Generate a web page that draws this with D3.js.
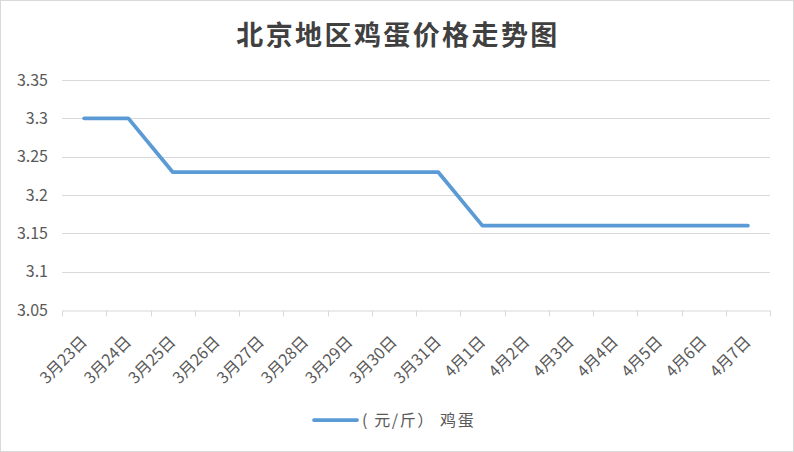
<!DOCTYPE html>
<html><head><meta charset="utf-8">
<script src="https://cdn.jsdelivr.net/npm/d3@7/dist/d3.min.js"></script>
<style>
html,body{margin:0;padding:0;background:#fff;}
svg{display:block;}
</style></head>
<body>
<svg id="chart" width="794" height="452"></svg>
<script>
const categories = ["3月23日","3月24日","3月25日","3月26日","3月27日","3月28日","3月29日","3月30日","3月31日","4月1日","4月2日","4月3日","4月4日","4月5日","4月6日","4月7日"];
const eggPrices = [3.30,3.30,3.23,3.23,3.23,3.23,3.23,3.23,3.23,3.16,3.16,3.16,3.16,3.16,3.16,3.16];
const yTicks = [3.05,3.1,3.15,3.2,3.25,3.3,3.35];
const yTickLabels = ["3.05","3.1","3.15","3.2","3.25","3.3","3.35"];
const titleText = "北京地区鸡蛋价格走势图";
const seriesName = "( 元/斤） 鸡蛋";

(function(){
const svg = d3.select("#chart");
const W = 794, H = 452;
const font = "'Noto Sans CJK SC','Microsoft YaHei',sans-serif";

svg.append("rect").attr("x",0.5).attr("y",0.5).attr("width",W-1).attr("height",H-1)
  .attr("fill","#fff").attr("stroke","#d9d9d9");

const pl = 62, pr = 770, pt = 80, pb = 310;
const x = d3.scaleBand().domain(categories).range([pl,pr]).padding(0);
const y = d3.scaleLinear().domain([3.05,3.35]).range([pb,pt]);

// gridlines
svg.append("g").selectAll("line").data(yTicks.slice(1)).join("line")
  .attr("x1",pl).attr("x2",pr)
  .attr("y1",d=>Math.round(y(d))+0.5).attr("y2",d=>Math.round(y(d))+0.5)
  .attr("stroke","#d9d9d9").attr("stroke-width",1);

// y labels
svg.append("g").selectAll("text").data(yTicks).join("text")
  .attr("x",48).attr("y",d=>y(d)).attr("dy","0.35em")
  .attr("text-anchor","end").attr("font-family",font).attr("font-size",16)
  .attr("fill","#595959").text((d,i)=>yTickLabels[i]);

// x axis
const xAxis = d3.axisBottom(x).tickSize(6).tickSizeOuter(0).tickFormat("");
const gx = svg.append("g").attr("transform",`translate(0,${Math.round(pb)+0.5})`).call(xAxis);
gx.select(".domain").attr("stroke","#d9d9d9");
gx.selectAll(".tick").remove();
const tickPos = categories.map(c=>x(c)).concat([pr]);
gx.selectAll("line.t").data(tickPos).join("line").attr("class","t")
  .attr("x1",d=>Math.round(d)+0.5).attr("x2",d=>Math.round(d)+0.5).attr("y1",0).attr("y2",6)
  .attr("stroke","#d9d9d9");

// x labels
svg.append("g").selectAll("text").data(categories).join("text")
  .attr("transform",d=>`translate(${x(d)+x.bandwidth()/2+4},343) rotate(-45)`)
  .attr("text-anchor","end")
  .attr("font-family",font).attr("font-size",16).attr("fill","#595959").text(d=>d);

// line
const line = d3.line().x((d,i)=>x(categories[i])+x.bandwidth()/2).y(d=>y(d));
svg.append("path").datum(eggPrices).attr("d",line).attr("fill","none")
  .attr("stroke","#5b9bd5").attr("stroke-width",3.75).attr("stroke-linejoin","round").attr("stroke-linecap","round");

// title
svg.append("text").attr("x",398).attr("y",45).attr("text-anchor","middle")
  .attr("font-family",font).attr("font-size",27).attr("letter-spacing","2.4px")
  .attr("font-weight","bold").attr("fill","#404040").text(titleText);

// legend
svg.append("line").attr("x1",314).attr("x2",357).attr("y1",420).attr("y2",420)
  .attr("stroke","#5b9bd5").attr("stroke-width",3.75).attr("stroke-linecap","round");
svg.append("text").attr("x",362).attr("y",420).attr("dy","0.35em")
  .attr("font-family",font).attr("font-size",16).attr("letter-spacing","1.6px")
  .attr("fill","#595959").text(seriesName);
})();
</script>
</body></html>
